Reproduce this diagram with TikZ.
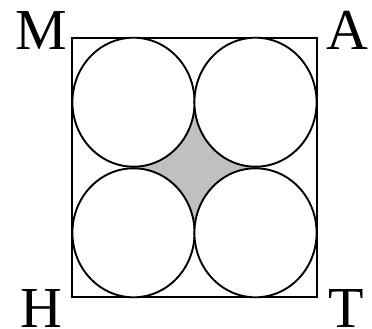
\documentclass[tikz,border=0pt]{standalone}
\usepackage{fontspec}
\setmainfont{Liberation Serif}
\begin{document}
\begin{tikzpicture}[x=1pt,y=-1pt,
  edge/.style={line width=1.9pt,draw=black},
  ball/.style={edge,fill=white},
  lbl/.style={anchor=base,inner sep=0pt,font=\fontsize{58}{60}\selectfont}]
\useasboundingbox (0,0) rectangle (372,329);
% shaded centre
\fill[fill={rgb,255:red,192;green,192;blue,192}] (133.5,102) rectangle (255.5,232.5);
% square
\draw[edge] (72.3,37.7) rectangle (316.7,297.3);
% circles
\draw[ball] (133.5,102.2) ellipse [x radius=61.1, y radius=64.5];
\draw[ball] (255.5,102.2) ellipse [x radius=61.1, y radius=64.5];
\draw[ball] (133.5,232.8) ellipse [x radius=61.1, y radius=64.5];
\draw[ball] (255.5,232.8) ellipse [x radius=61.1, y radius=64.5];
% labels
\node[lbl] (m) at (41.5,49) {M};
\node[lbl] (a) at (347.5,49) {A};
\node[lbl] (h) at (41.5,327) {H};
\node[lbl] (t) at (346.5,327) {T};
\end{tikzpicture}
\end{document}
